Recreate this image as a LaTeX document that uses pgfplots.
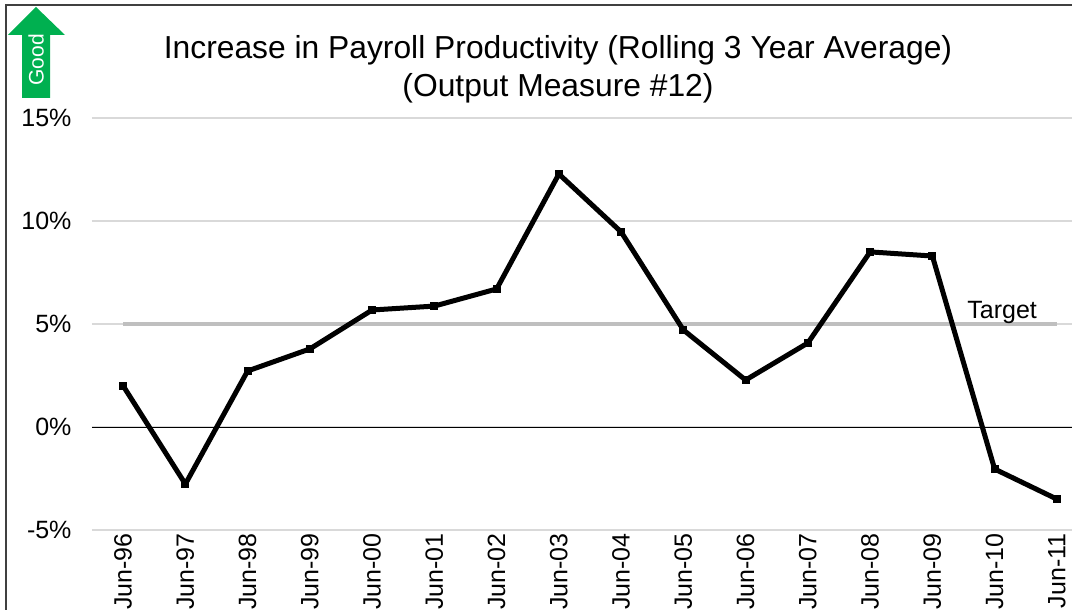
\documentclass[border=0pt]{standalone}
\usepackage{fontspec}
\setmainfont{Liberation Sans}
\usepackage{pgfplots}
\pgfplotsset{compat=1.18}
\definecolor{goodgreen}{RGB}{0,176,80}
\definecolor{gridgray}{RGB}{217,217,217}
\definecolor{targetgray}{RGB}{191,191,191}
\begin{document}
\begin{tikzpicture}
\clip (0pt,0pt) rectangle (1072pt,-610pt);
\fill[white] (0pt,0pt) rectangle (1072pt,-610pt);
\draw[line width=1.3pt, black!75] (6pt,-700pt) -- (6pt,-5pt) -- (1200pt,-5pt);
% Good arrow
\fill[goodgreen] (8pt,-35pt) -- (36pt,-7pt) -- (65pt,-35pt) -- (50pt,-35pt) -- (50pt,-98pt) -- (22pt,-98pt) -- (22pt,-35pt) -- cycle;
\node[rotate=90, white, font=\fontsize{21}{21}\selectfont] at (36pt,-60pt) {Good};
% title
\node[font=\fontsize{31.8}{31.8}\selectfont] at (558pt,-50pt) {Increase in Payroll Productivity (Rolling 3 Year Average)};
\node[font=\fontsize{31.8}{31.8}\selectfont] at (558pt,-88pt) {(Output Measure \#12)};
\begin{axis}[
  at={(92pt,-530pt)}, anchor=south west,
  scale only axis, width=996pt, height=412pt,
  xmin=-0.5, xmax=15.5, ymin=-5, ymax=15,
  axis line style={draw=none},
  ymajorgrids, grid style={gridgray, line width=1.3pt},
  ytick={-5,0,5,10,15}, yticklabels={-5\%,0\%,5\%,10\%,15\%},
  xtick={0,...,15},
  xticklabels={Jun-96,Jun-97,Jun-98,Jun-99,Jun-00,Jun-01,Jun-02,Jun-03,Jun-04,Jun-05,Jun-06,Jun-07,Jun-08,Jun-09,Jun-10,Jun-11},
  major tick length=0pt,
  tick label style={font=\fontsize{25}{25}\selectfont},
  xticklabel style={rotate=90, anchor=east},
  yticklabel style={xshift=-17pt},
]
\addplot[black, line width=1pt, forget plot] coordinates {(-0.5,0) (15.5,0)};
\addplot[targetgray, line width=4pt, forget plot] coordinates {(0,5) (15,5)};
\addplot[black, line width=5pt, line join=round, mark=square*, mark size=3.5pt, mark options={line width=0pt}] coordinates {
(0,2.0) (1,-2.77) (2,2.72) (3,3.79) (4,5.68) (5,5.87) (6,6.70) (7,12.28)
(8,9.47) (9,4.71) (10,2.28) (11,4.08) (12,8.50) (13,8.30) (14,-2.04) (15,-3.50)};
\node[font=\fontsize{25}{25}\selectfont] at (axis cs:14.12,5.55) {Target};
\end{axis}
\end{tikzpicture}
\end{document}
